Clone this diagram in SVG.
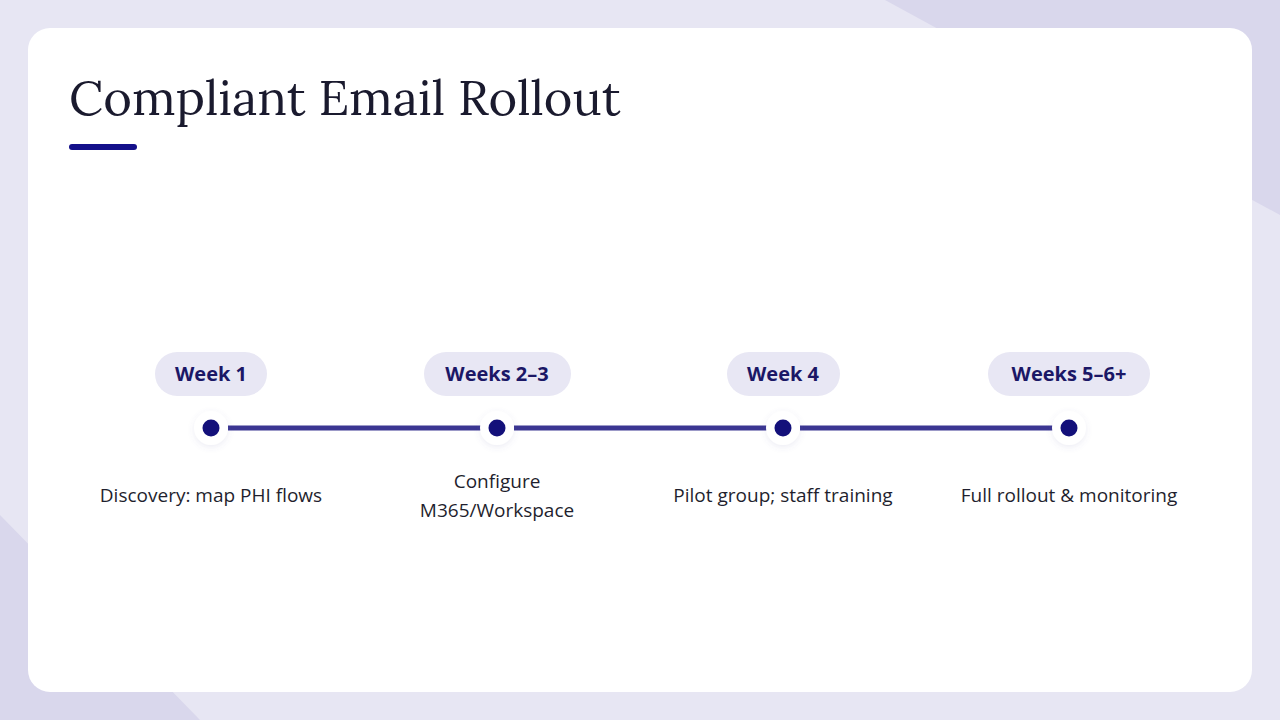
<svg xmlns="http://www.w3.org/2000/svg" width="1280" height="720" viewBox="0 0 1280 720">
<style>
.pill{fill:#e8e7f4}
.pt{font-family:"Open Sans","Liberation Sans",sans-serif;font-size:20px;font-weight:700;fill:#1b1766;text-anchor:middle}
.dt{font-family:"Open Sans","Liberation Sans",sans-serif;font-size:19px;fill:#1f1f2e;text-anchor:middle}
.dot{fill:#13107a}
.halo{fill:#ffffff;filter:url(#sh)}
.seg{stroke:#3b3692;stroke-width:5;stroke-linecap:butt}
</style>
<defs>
<filter id="sh" x="-50%" y="-50%" width="200%" height="200%"><feDropShadow dx="0" dy="2" stdDeviation="3" flood-color="#6a66a8" flood-opacity="0.12"/></filter>
</defs>
<rect width="1280" height="720" fill="#e7e6f3"/>
<polygon points="885,0 1280,0 1280,215" fill="#d9d7ec"/>
<polygon points="0,515 200,720 0,720" fill="#d9d7ec"/>
<rect x="28" y="28" width="1224" height="664" rx="22" fill="#ffffff"/>
<text x="69" y="115" font-family="Lora,'Liberation Serif',serif" font-size="49" fill="#1a1a2e">Compliant Email Rollout</text>
<rect x="69" y="144" width="68" height="6" rx="3" fill="#14108a"/>
<g id="connectors">
<line class="seg" x1="228" y1="428" x2="482" y2="428"/>
<line class="seg" x1="514" y1="428" x2="768" y2="428"/>
<line class="seg" x1="800" y1="428" x2="1053" y2="428"/>
</g>
<g id="n1"><rect class="pill" x="155" y="352" width="112" height="44" rx="22"/><text class="pt" x="211" y="381">Week 1</text>
<circle class="halo" cx="211" cy="428" r="17"/><circle class="dot" cx="211" cy="428" r="8.5"/>
<text class="dt" x="211" y="502">Discovery: map PHI flows</text></g>
<g id="n2"><rect class="pill" x="424" y="352" width="147" height="44" rx="22"/><text class="pt" x="497" y="381">Weeks 2–3</text>
<circle class="halo" cx="497" cy="428" r="17"/><circle class="dot" cx="497" cy="428" r="8.5"/>
<text class="dt" x="497" y="488">Configure</text><text class="dt" x="497" y="517">M365/Workspace</text></g>
<g id="n3"><rect class="pill" x="727" y="352" width="113" height="44" rx="22"/><text class="pt" x="783" y="381">Week 4</text>
<circle class="halo" cx="783" cy="428" r="17"/><circle class="dot" cx="783" cy="428" r="8.5"/>
<text class="dt" x="783" y="502">Pilot group; staff training</text></g>
<g id="n4"><rect class="pill" x="988" y="352" width="162" height="44" rx="22"/><text class="pt" x="1069" y="381">Weeks 5–6+</text>
<circle class="halo" cx="1069" cy="428" r="17"/><circle class="dot" cx="1069" cy="428" r="8.5"/>
<text class="dt" x="1069" y="502">Full rollout &amp; monitoring</text></g>
</svg>
